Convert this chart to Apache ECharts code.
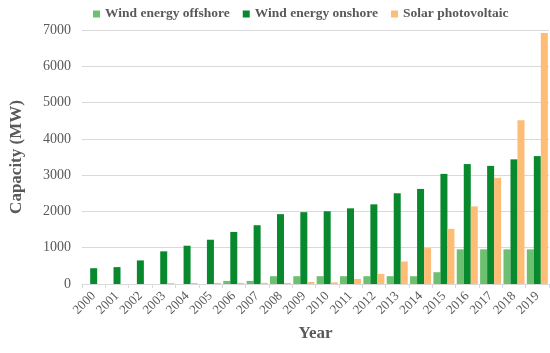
<!DOCTYPE html>
<html><head><meta charset="utf-8">
<script src="https://cdn.jsdelivr.net/npm/echarts@6/dist/echarts.min.js"></script>
<style>html,body{margin:0;padding:0;background:#fff}#c{width:550px;height:353px}</style>
</head><body><div id="c"></div>
<script>
var years = ['2000','2001','2002','2003','2004','2005','2006','2007','2008','2009','2010','2011','2012','2013','2014','2015','2016','2017','2018','2019'];
var offshore = [0,0,0,0,0,0,85,85,215,215,215,215,215,215,215,325,955,955,955,955];
var onshore = [435,465,650,900,1055,1220,1435,1620,1925,1980,2005,2085,2195,2500,2620,3035,3305,3255,3435,3525];
var solar = [0,0,0,25,30,30,30,30,30,55,45,140,280,620,990,1520,2140,2925,4510,6920];
var yTicks = {min:0, max:7000, interval:1000};
var font = 'Liberation Serif';
var chart = echarts.init(document.getElementById('c'));
chart.setOption({
  animation:false,
  legend:{top:2,left:88,width:460,itemWidth:7,itemHeight:7,itemGap:13,icon:'rect',
    textStyle:{fontFamily:font,fontWeight:'bold',fontSize:13.5,color:'#595959'},
    data:['Wind energy offshore','Wind energy onshore','Solar photovoltaic']},
  grid:{left:73,right:1,top:30,bottom:69,containLabel:false},
  xAxis:{type:'category',data:years,name:'Year',nameLocation:'middle',nameGap:41,
    nameTextStyle:{fontFamily:font,fontWeight:'bold',fontSize:17,color:'#595959'},
    axisLine:{lineStyle:{color:'#d9d9d9'}},
    axisTick:{show:true,length:4,lineStyle:{color:'#d9d9d9'}},
    axisLabel:{rotate:45,fontFamily:font,fontSize:13,color:'#595959',margin:10,interval:0}},
  yAxis:{type:'value',min:yTicks.min,max:yTicks.max,interval:yTicks.interval,
    name:'Capacity (MW)',nameLocation:'middle',nameGap:57,
    nameTextStyle:{fontFamily:font,fontWeight:'bold',fontSize:17,color:'#595959'},
    axisLine:{show:false},axisTick:{show:false},
    splitLine:{lineStyle:{color:'#d9d9d9'}},
    axisLabel:{fontFamily:font,fontSize:14,color:'#595959',margin:11,formatter:function(v){return String(v);}}},
  series:[
    {name:'Wind energy offshore',type:'bar',data:offshore,itemStyle:{color:'#6cc070'},barGap:'0%',barCategoryGap:'10%'},
    {name:'Wind energy onshore',type:'bar',data:onshore,itemStyle:{color:'#08892e'},barGap:'0%',barCategoryGap:'10%'},
    {name:'Solar photovoltaic',type:'bar',data:solar,itemStyle:{color:'#fdbd76'},barGap:'0%',barCategoryGap:'10%'}
  ]
});
</script></body></html>
